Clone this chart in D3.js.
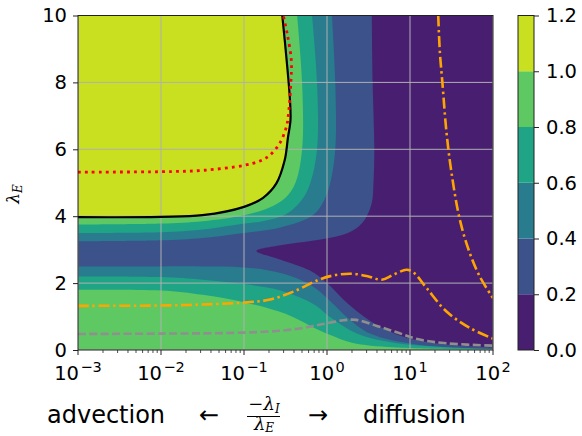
<!DOCTYPE html>
<html lang="en">
<head>
<meta charset="utf-8">
<title>lambda contour</title>
<script src="https://cdn.jsdelivr.net/npm/d3@7"></script>
<style>
body{margin:0;background:#fff;}
svg text{font-family:"DejaVu Sans",sans-serif;fill:#000;}
.math{font-family:"DejaVu Serif",serif;font-style:italic;}
</style>
</head>
<body>
<div id="chart"></div>
<script>
// contour levels (also the colorbar ticks)
var levels = [0, 0.2, 0.4, 0.6, 0.8, 1.0, 1.2]
var xTicks = [-3, -2, -1, 0, 1, 2]      // exponents, x = -lambda_I/lambda_E
var yTicks = [0, 2, 4, 6, 8, 10]

// contour edges, points are [log10(x), lambdaE]
var c02 = [[0.54,10],[0.55,8],[0.57,6],[0.56,5],[0.54,4.4],[0.46,3.92],[0.34,3.62],[0.16,3.42],[-0.16,3.27],[-0.56,3.13],[-0.85,2.96],[-0.56,2.7],[-0.2,2.37],[0,2.0],[0.2,1.5],[0.4,1.08],[0.6,0.75],[0.95,0.37],[1.4,0.17],[2,0.08]]
var c04up = [[0.06,10],[0.10,8],[0.10,6],[0.04,5],[-0.02,4.55],[-0.16,4.05],[-0.56,3.66],[-1,3.5],[-1.5,3.35],[-2,3.28],[-3,3.25]]
var c06up = [[-0.18,10],[-0.12,8],[-0.12,6],[-0.2,5],[-0.3,4.5],[-0.5,4.05],[-0.76,3.86],[-1,3.78],[-1.5,3.6],[-2,3.52],[-3,3.5]]
var c08up = [[-0.36,10],[-0.3,8],[-0.3,6],[-0.38,5],[-0.5,4.55],[-0.7,4.25],[-1,4.03],[-1.5,3.85],[-2,3.78],[-3,3.75]]
var c10 = [[-0.539,10],[-0.486,8.66],[-0.446,7.46],[-0.44,6.87],[-0.47,6.36],[-0.51,5.67],[-0.61,4.98],[-0.77,4.55],[-1,4.28],[-1.5,4.03],[-2,3.98],[-3,3.97]]
var c04low = [[-3,2.5],[-2,2.5],[-1.5,2.5],[-1,2.47],[-0.56,2.3],[-0.2,1.95],[0.04,1.46],[0.24,0.98],[0.52,0.49],[1.12,0.15],[2,0.04]]
var c06low = [[-3,2.2],[-2,2.18],[-1.5,2.1],[-1,1.97],[-0.56,1.78],[-0.16,1.37],[0.04,0.98],[0.36,0.49],[0.84,0.2],[2,0.02]]
var c08low = [[-3,1.8],[-2,1.78],[-1.5,1.65],[-1,1.43],[-0.5,1.08],[-0.2,0.72],[0.04,0.45],[0.3,0.22],[0.8,0.08],[2,0.01]]

// overlaid curves
var redDotted = [[-3,5.32],[-2,5.33],[-1.5,5.37],[-1,5.52],[-0.8,5.66],[-0.69,5.82],[-0.57,6.18],[-0.49,6.66],[-0.46,7.16],[-0.434,8.06],[-0.43,8.66],[-0.48,9.46],[-0.527,10]]
var orangeLow = [[-3,1.32],[-2,1.33],[-1.5,1.36],[-1,1.42],[-0.7,1.5],[-0.4,1.75],[-0.1,2.1],[0.1,2.24],[0.3,2.28],[0.5,2.2],[0.66,2.1],[0.8,2.25],[0.96,2.4],[1.05,2.3],[1.2,1.85],[1.44,1.15],[1.72,0.66],[2,0.34]]
var orangeHigh = [[1.34,10],[1.36,8.9],[1.39,8],[1.44,6.5],[1.5,5.3],[1.6,3.9],[1.72,2.9],[1.84,2.2],[2,1.55]]
var grayDashed = [[-3,0.48],[-2,0.49],[-1,0.52],[-0.5,0.59],[-0.2,0.7],[0,0.8],[0.2,0.89],[0.35,0.9],[0.6,0.72],[0.85,0.52],[1.1,0.32],[1.44,0.2],[2,0.13]]

var W = 582, H = 436
var pL = 78, pR = 493, pT = 15.5, pB = 350

var x = d3.scaleLog().domain([1e-3, 1e2]).range([pL, pR])
var y = d3.scaleLinear().domain([0, 10]).range([pB, pT])
var bandColor = function(i){ return d3.interpolateViridis((i + 0.5) / (levels.length - 1)) }

var svg = d3.select("#chart").append("svg").attr("width", W).attr("height", H)

svg.append("clipPath").attr("id", "clip")
   .append("rect").attr("x", pL).attr("y", pT).attr("width", pR - pL).attr("height", pB - pT)

var pt = function(p){ return [x(Math.pow(10, p[0])), y(p[1])] }
var smooth = d3.line().curve(d3.curveCatmullRom.alpha(0.5))

// closes an edge outside the axes; side says where the high values are
function region(edge, side){
  var a = edge[0], b = edge[edge.length - 1], c
  if(side == "upper") c = [[-3.6, b[1]], [-3.6, 11], [a[0], 11]]
  else if(side == "lower") c = [[2.6, b[1]], [2.6, -1], [-3.6, -1], [-3.6, a[1]]]
  else c = [[2.6, b[1]], [2.6, -1], [-3.6, -1], [-3.6, 11], [a[0], 11]]
  return smooth(edge.map(pt)) + c.map(function(q){ q = pt(q); return "L" + q[0] + "," + q[1] }).join("") + "Z"
}

var bands = [
  {band: 1, edge: c02, side: "all"},
  {band: 2, edge: c04up, side: "upper"},
  {band: 2, edge: c04low, side: "lower"},
  {band: 3, edge: c06up, side: "upper"},
  {band: 3, edge: c06low, side: "lower"},
  {band: 4, edge: c08up, side: "upper"},
  {band: 4, edge: c08low, side: "lower"},
  {band: 5, edge: c10, side: "upper"}
]

var plot = svg.append("g").attr("clip-path", "url(#clip)")
plot.append("rect").attr("x", pL).attr("y", pT).attr("width", pR - pL).attr("height", pB - pT)
    .attr("fill", bandColor(0))
plot.selectAll("path.band").data(bands).enter().append("path")
    .attr("class", "band")
    .attr("d", function(d){ return region(d.edge, d.side) })
    .attr("fill", function(d){ return bandColor(d.band) })

// grid
plot.selectAll("line.gx").data(xTicks).enter().append("line")
    .attr("x1", function(d){ return x(Math.pow(10, d)) }).attr("x2", function(d){ return x(Math.pow(10, d)) })
    .attr("y1", pT).attr("y2", pB)
    .attr("stroke", "#b0b0b0").attr("stroke-width", 1)
plot.selectAll("line.gy").data(yTicks).enter().append("line")
    .attr("y1", function(d){ return y(d) }).attr("y2", function(d){ return y(d) })
    .attr("x1", pL).attr("x2", pR)
    .attr("stroke", "#b0b0b0").attr("stroke-width", 1)

var lines = [
  {pts: c10, color: "#000", width: 2.2, dash: null},
  {pts: redDotted, color: "#ff0000", width: 2.8, dash: "2.8,4.2"},
  {pts: grayDashed, color: "#8f8f8f", width: 2.6, dash: "8,3.4"},
  {pts: orangeLow, color: "#ffa500", width: 2.6, dash: "11,3.6,2.4,3.6"},
  {pts: orangeHigh, color: "#ffa500", width: 2.6, dash: "11,3.6,2.4,3.6"}
]
plot.selectAll("path.curve").data(lines).enter().append("path")
    .attr("class", "curve")
    .attr("d", function(d){ return smooth(d.pts.map(pt)) })
    .attr("fill", "none")
    .attr("stroke", function(d){ return d.color })
    .attr("stroke-width", function(d){ return d.width })
    .attr("stroke-dasharray", function(d){ return d.dash })

// frame
svg.append("rect").attr("x", pL).attr("y", pT).attr("width", pR - pL).attr("height", pB - pT)
   .attr("fill", "none").attr("stroke", "#222").attr("stroke-width", 1)

// x axis with minor ticks
var minor = []
xTicks.slice(0, -1).forEach(function(e){ for(var k = 2; k < 10; k++) minor.push(k * Math.pow(10, e)) })
svg.selectAll("line.minor").data(minor).enter().append("line")
   .attr("x1", function(d){ return x(d) }).attr("x2", function(d){ return x(d) })
   .attr("y1", pB).attr("y2", pB + 3)
   .attr("stroke", "#222").attr("stroke-width", 0.8)
svg.selectAll("line.major").data(xTicks).enter().append("line")
   .attr("x1", function(d){ return x(Math.pow(10, d)) }).attr("x2", function(d){ return x(Math.pow(10, d)) })
   .attr("y1", pB).attr("y2", pB + 5)
   .attr("stroke", "#222").attr("stroke-width", 1)
var xl = svg.selectAll("text.xt").data(xTicks).enter().append("text")
   .attr("x", function(d){ return x(Math.pow(10, d)) })
   .attr("y", 380)
   .attr("text-anchor", "middle")
   .attr("font-size", "19.5px")
xl.append("tspan").text("10")
xl.append("tspan").attr("dy", -8).attr("dx", 1.5).attr("font-size", "14.5px")
   .text(function(d){ return d < 0 ? "\u2212" + (-d) : "" + d })

// y axis
svg.append("g").attr("transform", "translate(" + pL + ",0)")
   .call(d3.axisLeft(y).tickValues(yTicks).tickSize(5).tickPadding(6).tickFormat(d3.format("d")))
   .call(function(g){
     g.select(".domain").remove()
     g.selectAll("line").attr("stroke", "#222")
     g.selectAll("text").attr("font-size", "19.5px").attr("font-family", "DejaVu Sans")
   })

// axis titles
var yl = svg.append("text").attr("transform", "translate(19,194) rotate(-90)").attr("text-anchor", "middle")
   .attr("class", "math").attr("font-size", "17px")
yl.append("tspan").text("\u03bb")
yl.append("tspan").attr("dy", 3).attr("font-size", "12px").text("E")

svg.append("text").attr("x", 47).attr("y", 423).attr("font-size", "24px").text("advection")
svg.append("text").attr("x", 209).attr("y", 423).attr("text-anchor", "middle").attr("font-size", "24px").text("\u2190")
svg.append("text").attr("x", 318).attr("y", 423).attr("text-anchor", "middle").attr("font-size", "24px").text("\u2192")
svg.append("text").attr("x", 363).attr("y", 423).attr("font-size", "24px").text("diffusion")
var num = svg.append("text").attr("x", 264).attr("y", 410).attr("text-anchor", "middle").attr("class", "math").attr("font-size", "18px")
num.append("tspan").attr("font-style", "normal").text("\u2212")
num.append("tspan").text("\u03bb")
num.append("tspan").attr("dy", 3).attr("font-size", "12px").text("I")
svg.append("line").attr("x1", 247).attr("x2", 280).attr("y1", 416.5).attr("y2", 416.5).attr("stroke", "#000").attr("stroke-width", 1)
var den = svg.append("text").attr("x", 264).attr("y", 430).attr("text-anchor", "middle").attr("class", "math").attr("font-size", "18px")
den.append("tspan").text("\u03bb")
den.append("tspan").attr("dy", 2).attr("font-size", "12px").text("E")

// colorbar
var cbL = 518, cbW = 16
var cy = d3.scaleLinear().domain([0, 1.2]).range([pB, pT])
svg.selectAll("rect.cb").data(levels.slice(0, -1)).enter().append("rect")
   .attr("x", cbL).attr("width", cbW)
   .attr("y", function(d, i){ return cy(levels[i + 1]) })
   .attr("height", function(d, i){ return cy(levels[i]) - cy(levels[i + 1]) })
   .attr("fill", function(d, i){ return bandColor(i) })
svg.append("rect").attr("x", cbL).attr("y", pT).attr("width", cbW).attr("height", pB - pT)
   .attr("fill", "none").attr("stroke", "#222").attr("stroke-width", 1)
svg.append("g").attr("transform", "translate(" + (cbL + cbW) + ",0)")
   .call(d3.axisRight(cy).tickValues(levels).tickSize(5).tickPadding(7).tickFormat(d3.format(".1f")))
   .call(function(g){
     g.select(".domain").remove()
     g.selectAll("line").attr("stroke", "#222")
     g.selectAll("text").attr("font-size", "19.5px").attr("font-family", "DejaVu Sans")
   })
</script>
</body>
</html>
